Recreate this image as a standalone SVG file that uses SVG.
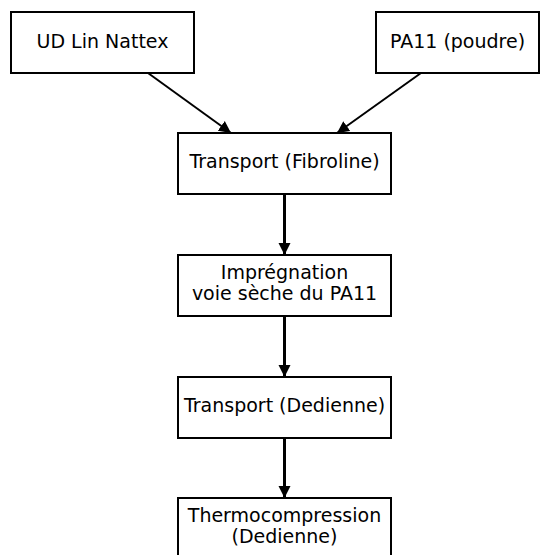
<svg xmlns="http://www.w3.org/2000/svg" width="550" height="555" viewBox="0 0 550 555">
<defs>
<style>
.box{fill:#fff;stroke:#000;stroke-width:2}
.t{font-family:"DejaVu Sans",Verdana,sans-serif;font-size:19px;fill:#000;text-anchor:middle}
.c{stroke:#000;fill:none}
</style>
<marker id="ah" markerUnits="userSpaceOnUse" markerWidth="14" markerHeight="14" viewBox="0 0 14 14" refX="12" refY="7" orient="auto">
<path d="M0,1 L12,7 L0,13 Z" fill="#000"/>
</marker>
</defs>
<rect width="550" height="555" fill="#fff"/>
<g id="connectors">
<line class="c" x1="148" y1="73" x2="231" y2="133" stroke-width="2" marker-end="url(#ah)"/>
<line class="c" x1="421" y1="73" x2="337" y2="133" stroke-width="2" marker-end="url(#ah)"/>
<line class="c" x1="284.5" y1="194" x2="284.5" y2="255" stroke-width="3" marker-end="url(#ah)"/>
<line class="c" x1="284.5" y1="316" x2="284.5" y2="377" stroke-width="3" marker-end="url(#ah)"/>
<line class="c" x1="284.5" y1="438" x2="284.5" y2="498" stroke-width="3" marker-end="url(#ah)"/>
</g>
<g id="n1"><rect class="box" x="11" y="12" width="183" height="61"/><text class="t" x="102.5" y="48">UD Lin Nattex</text></g>
<g id="n2"><rect class="box" x="376" y="12" width="163" height="61"/><text class="t" x="457.5" y="48">PA11 (poudre)</text></g>
<g id="n3"><rect class="box" x="178" y="133" width="213" height="61"/><text class="t" x="284.5" y="168">Transport (Fibroline)</text></g>
<g id="n4"><rect class="box" x="178" y="255" width="213" height="61"/><text class="t" x="284.5" y="279">Imprégnation</text><text class="t" x="284.5" y="300">voie sèche du PA11</text></g>
<g id="n5"><rect class="box" x="178" y="377" width="213" height="61"/><text class="t" x="284.5" y="412">Transport (Dedienne)</text></g>
<g id="n6"><rect class="box" x="178" y="498" width="213" height="61"/><text class="t" x="284.5" y="522">Thermocompression</text><text class="t" x="284.5" y="543">(Dedienne)</text></g>
</svg>
